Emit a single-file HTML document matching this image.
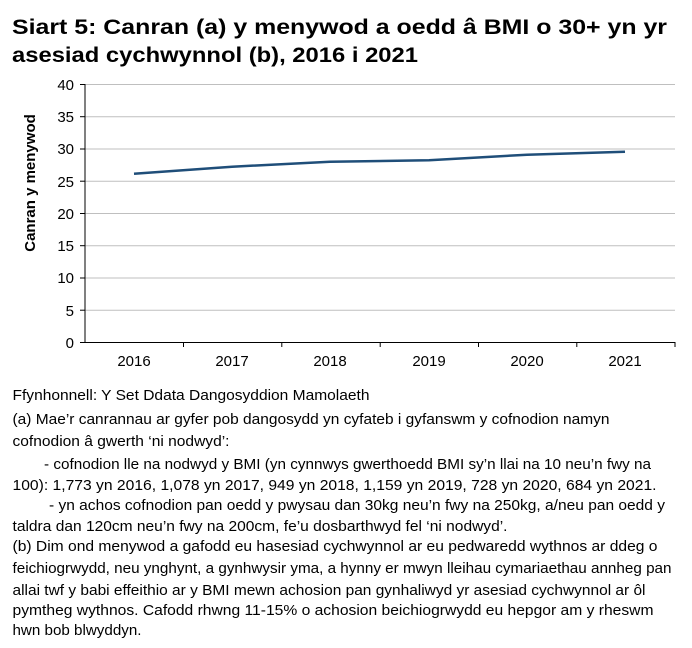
<!DOCTYPE html>
<html><head><meta charset="utf-8"><style>
html,body{margin:0;padding:0;background:#fff;}
svg{display:block;font-family:"Liberation Sans",Arial,sans-serif;}
</style></head><body>
<svg width="692" height="648" viewBox="0 0 692 648" xmlns="http://www.w3.org/2000/svg">
<g font-weight="bold" font-size="21" fill="#000">
<text x="12" y="34" textLength="655" lengthAdjust="spacingAndGlyphs">Siart 5: Canran (a) y menywod a oedd â BMI o 30+ yn yr</text>
<text x="12" y="62" textLength="406" lengthAdjust="spacingAndGlyphs">asesiad cychwynnol (b), 2016 i 2021</text>
</g>
<g stroke="#bfbfbf" stroke-width="1">
<line x1="85" x2="675" y1="84.5" y2="84.5"/>
<line x1="85" x2="675" y1="116.7" y2="116.7"/>
<line x1="85" x2="675" y1="149" y2="149"/>
<line x1="85" x2="675" y1="181.2" y2="181.2"/>
<line x1="85" x2="675" y1="213.5" y2="213.5"/>
<line x1="85" x2="675" y1="245.7" y2="245.7"/>
<line x1="85" x2="675" y1="278" y2="278"/>
<line x1="85" x2="675" y1="310.2" y2="310.2"/>
</g>
<g stroke="#000" stroke-width="1">
<line x1="85" x2="85" y1="84" y2="342.5"/>
<line x1="80" x2="675" y1="342.5" y2="342.5"/>
<line x1="80" x2="85" y1="84.5" y2="84.5"/>
<line x1="80" x2="85" y1="116.7" y2="116.7"/>
<line x1="80" x2="85" y1="149" y2="149"/>
<line x1="80" x2="85" y1="181.2" y2="181.2"/>
<line x1="80" x2="85" y1="213.5" y2="213.5"/>
<line x1="80" x2="85" y1="245.7" y2="245.7"/>
<line x1="80" x2="85" y1="278" y2="278"/>
<line x1="80" x2="85" y1="310.2" y2="310.2"/>
<line x1="183.5" x2="183.5" y1="342" y2="347"/>
<line x1="281.8" x2="281.8" y1="342" y2="347"/>
<line x1="380.2" x2="380.2" y1="342" y2="347"/>
<line x1="478.5" x2="478.5" y1="342" y2="347"/>
<line x1="576.8" x2="576.8" y1="342" y2="347"/>
<line x1="675" x2="675" y1="342" y2="347"/>
</g>
<g font-size="15" text-anchor="end" fill="#000">
<text x="74" y="90">40</text><text x="74" y="122">35</text><text x="74" y="154">30</text>
<text x="74" y="187">25</text><text x="74" y="219">20</text><text x="74" y="251">15</text>
<text x="74" y="283">10</text><text x="74" y="316">5</text><text x="74" y="348">0</text>
</g>
<g font-size="15" text-anchor="middle" fill="#000">
<text x="134" y="366">2016</text><text x="232" y="366">2017</text><text x="330" y="366">2018</text>
<text x="429" y="366">2019</text><text x="527" y="366">2020</text><text x="625" y="366">2021</text>
</g>
<text transform="translate(35,183) rotate(-90)" text-anchor="middle" font-size="15" font-weight="bold">Canran y menywod</text>
<polyline fill="none" stroke="#1f4e79" stroke-width="2.5" points="134,173.7 232,166.7 330,161.7 429,160.3 527,154.7 625,151.7"/>
<g font-size="15" fill="#000">
<text x="12.5" y="400" textLength="357" lengthAdjust="spacingAndGlyphs">Ffynhonnell: Y Set Ddata Dangosyddion Mamolaeth</text>
<text x="12.5" y="424" textLength="597" lengthAdjust="spacingAndGlyphs">(a) Mae’r canrannau ar gyfer pob dangosydd yn cyfateb i gyfanswm y cofnodion namyn</text>
<text x="12.5" y="446" textLength="217" lengthAdjust="spacingAndGlyphs">cofnodion â gwerth ‘ni nodwyd’:</text>
<text x="44" y="469" textLength="607" lengthAdjust="spacingAndGlyphs">- cofnodion lle na nodwyd y BMI (yn cynnwys gwerthoedd BMI sy’n llai na 10 neu’n fwy na</text>
<text x="12.5" y="490" textLength="644" lengthAdjust="spacingAndGlyphs">100): 1,773 yn 2016, 1,078 yn 2017, 949 yn 2018, 1,159 yn 2019, 728 yn 2020, 684 yn 2021.</text>
<text x="49" y="510" textLength="616" lengthAdjust="spacingAndGlyphs">- yn achos cofnodion pan oedd y pwysau dan 30kg neu’n fwy na 250kg, a/neu pan oedd y</text>
<text x="12.5" y="531" textLength="495" lengthAdjust="spacingAndGlyphs">taldra dan 120cm neu’n fwy na 200cm, fe’u dosbarthwyd fel ‘ni nodwyd’.</text>
<text x="12.5" y="551" textLength="645" lengthAdjust="spacingAndGlyphs">(b) Dim ond menywod a gafodd eu hasesiad cychwynnol ar eu pedwaredd wythnos ar ddeg o</text>
<text x="12.5" y="573" textLength="659" lengthAdjust="spacingAndGlyphs">feichiogrwydd, neu ynghynt, a gynhwysir yma, a hynny er mwyn lleihau cymariaethau annheg pan</text>
<text x="12.5" y="595" textLength="633" lengthAdjust="spacingAndGlyphs">allai twf y babi effeithio ar y BMI mewn achosion pan gynhaliwyd yr asesiad cychwynnol ar ôl</text>
<text x="12.5" y="615" textLength="641" lengthAdjust="spacingAndGlyphs">pymtheg wythnos. Cafodd rhwng 11-15% o achosion beichiogrwydd eu hepgor am y rheswm</text>
<text x="12.5" y="635" textLength="129" lengthAdjust="spacingAndGlyphs">hwn bob blwyddyn.</text>
</g>
</svg>
</body></html>
